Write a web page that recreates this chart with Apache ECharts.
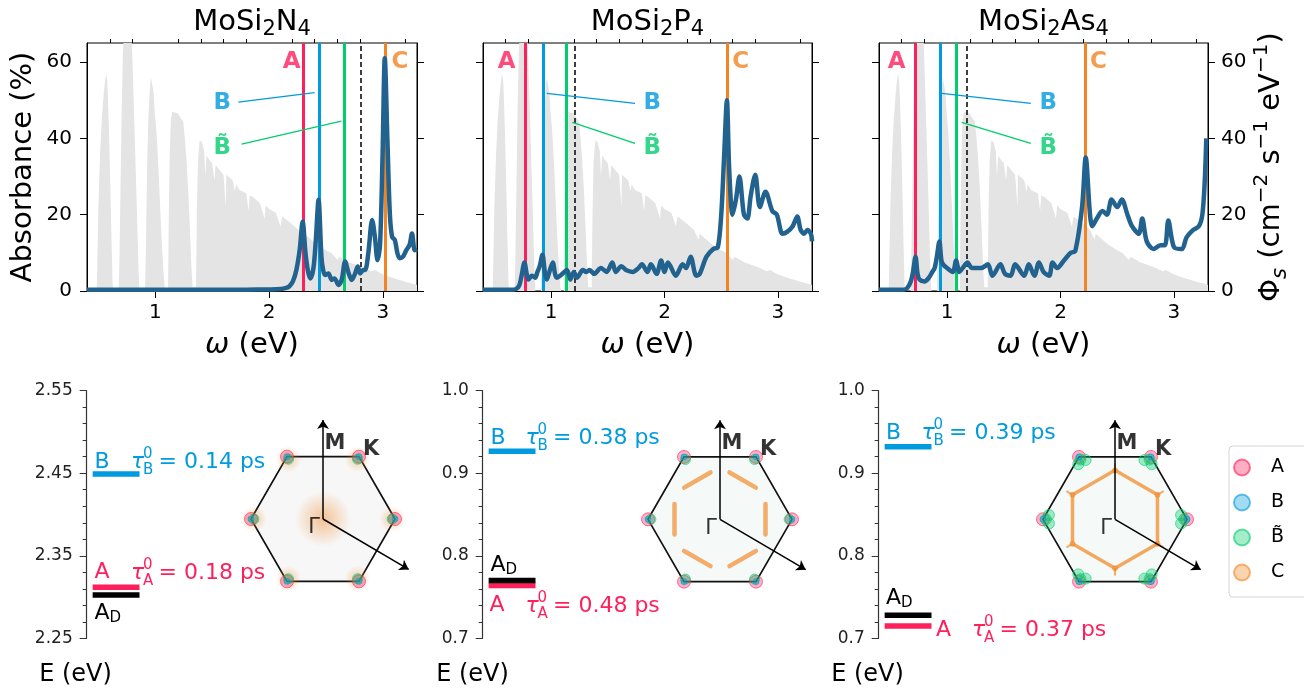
<!DOCTYPE html>
<html>
<head>
<meta charset="utf-8">
<script src="https://cdn.jsdelivr.net/npm/echarts@6/dist/echarts.min.js"></script>
<style>
  html, body { margin: 0; padding: 0; background: #fff; }
  #chart { width: 1304px; height: 690px; }
</style>
</head>
<body>
<div id="chart"></div>
<script>
// ---- data ----
const materials = ['MoSi{s|2}N{s|4}', 'MoSi{s|2}P{s|4}', 'MoSi{s|2}As{s|4}'];

const omegaMajor = [1, 2, 3];
const omegaMinor = [0.6, 0.8, 1.2, 1.4, 1.6, 1.8, 2.2, 2.4, 2.6, 2.8, 3.2];
const absTicks = [0, 20, 40, 60];

// solar photon flux (grey area, right axis)
const solarFlux = [
  [0.40, 0], [0.485, 0], [0.49, 6], [0.50, 22], [0.515, 36], [0.53, 45], [0.545, 51], [0.558, 55], [0.569, 57],
  [0.578, 55], [0.585, 50], [0.595, 40], [0.605, 28], [0.615, 14], [0.625, 2], [0.63, 0],
  [0.678, 0], [0.685, 8], [0.695, 28], [0.705, 48], [0.715, 62], [0.725, 68], [0.79, 68], [0.80, 60], [0.81, 50],
  [0.82, 40], [0.832, 28], [0.845, 14], [0.855, 4], [0.862, 0],
  [0.91, 0], [0.918, 12], [0.928, 32], [0.94, 46], [0.952, 53], [0.962, 56], [0.975, 55.5], [0.985, 52], [0.995, 47],
  [1.01, 42], [1.025, 34], [1.04, 24], [1.055, 14], [1.07, 6], [1.082, 1], [1.09, 0],
  [1.112, 0], [1.118, 18], [1.127, 36], [1.137, 45], [1.15, 47], [1.2, 46.5], [1.22, 45.5], [1.245, 44.5], [1.26, 40],
  [1.275, 34], [1.29, 26], [1.305, 16], [1.318, 6], [1.328, 1],
  [1.358, 1], [1.365, 20], [1.375, 34], [1.39, 39.5], [1.41, 39], [1.43, 36.5], [1.44, 30], [1.45, 35.5], [1.477, 34.3],
  [1.5, 33.5], [1.52, 29], [1.53, 33], [1.565, 31.7], [1.6, 30.5], [1.62, 22], [1.625, 30.5], [1.68, 29], [1.7, 26],
  [1.71, 28], [1.74, 26.5], [1.8, 25.6], [1.82, 21], [1.83, 25], [1.855, 24.7], [1.92, 23], [1.96, 19], [1.97, 22.5],
  [2.0, 21.5], [2.06, 20.5], [2.1, 17], [2.115, 19.5], [2.19, 17.8], [2.26, 16], [2.3, 13.5], [2.31, 15], [2.406, 12.5],
  [2.48, 11], [2.55, 9.9], [2.6, 8.2], [2.62, 9], [2.697, 7.6], [2.77, 6.8], [2.842, 6], [2.9, 5.2], [2.93, 5.5],
  [2.988, 4.5], [3.05, 3.8], [3.133, 3], [3.2, 2.4], [3.28, 1.8], [3.3, 1.6]
];

// absorbance (%) curves
const absN4 = [
  [0.40, 0.3], [1.0, 0.3], [1.8, 0.35], [2.0, 0.4], [2.1, 0.5], [2.15, 0.8], [2.18, 1.3], [2.21, 2.6], [2.24, 5.5],
  [2.27, 11], [2.295, 18.2], [2.32, 10], [2.34, 5.5], [2.362, 3.3], [2.39, 6], [2.41, 13], [2.435, 23.9], [2.46, 9],
  [2.475, 5.5], [2.493, 4.2], [2.522, 4.6], [2.55, 2.9], [2.575, 3.3], [2.61, 1.6], [2.64, 3.2], [2.668, 7.7],
  [2.70, 4.6], [2.726, 2.9], [2.755, 4.5], [2.78, 6.4], [2.80, 4.6], [2.828, 5.5], [2.845, 5.5], [2.872, 9.9],
  [2.906, 18.6], [2.93, 14.2], [2.953, 8.1], [2.975, 12], [2.997, 35], [3.017, 61], [3.04, 39.6], [3.061, 20.4],
  [3.081, 14.2], [3.105, 13.4], [3.128, 9.9], [3.148, 8.6], [3.177, 9], [3.206, 10.7], [3.235, 12.1], [3.256, 15.1],
  [3.28, 10.7], [3.3, 11]
];
const absP4 = [
  [0.4, 0.3], [0.65, 0.3], [0.69, 0.5], [0.72, 1.5], [0.74, 4], [0.765, 7.5], [0.785, 4.5], [0.80, 3], [0.83, 4],
  [0.86, 3.5], [0.88, 5], [0.9, 6.5], [0.924, 9.5], [0.945, 5], [0.962, 3], [0.985, 5], [1.015, 7.5], [1.035, 4.5],
  [1.05, 3.5], [1.08, 4], [1.1, 4.5], [1.14, 5.5], [1.17, 3], [1.2, 5], [1.23, 3.5], [1.28, 5.5], [1.31, 5],
  [1.34, 5.5], [1.38, 4.5], [1.44, 6], [1.49, 5], [1.54, 7.5], [1.57, 5], [1.62, 6.5], [1.66, 5.5], [1.72, 5],
  [1.77, 6], [1.80, 7], [1.85, 5], [1.88, 7], [1.93, 4.5], [1.97, 8], [2.0, 5], [2.03, 7.5], [2.1, 4], [2.16, 7],
  [2.19, 6], [2.23, 9], [2.28, 4], [2.31, 4.5], [2.37, 9], [2.43, 11], [2.47, 11.5], [2.50, 20], [2.525, 35],
  [2.55, 50], [2.57, 32], [2.60, 20], [2.63, 24], [2.66, 30], [2.70, 20], [2.73, 19], [2.76, 25], [2.80, 30.5],
  [2.84, 22], [2.89, 26], [2.95, 21], [2.99, 20], [3.04, 15], [3.08, 15.5], [3.13, 17], [3.17, 19.5], [3.2, 16],
  [3.23, 15], [3.26, 16], [3.29, 15], [3.3, 13]
];
const absAs4 = [
  [0.4, 0.3], [0.62, 0.3], [0.65, 0.8], [0.68, 2.5], [0.70, 5], [0.722, 9], [0.74, 4.5], [0.757, 3], [0.80, 2.5],
  [0.84, 3.5], [0.87, 5], [0.89, 6], [0.91, 9], [0.932, 13], [0.95, 8], [0.965, 7], [1.0, 6], [1.05, 5], [1.08, 8],
  [1.108, 5], [1.137, 6], [1.18, 7.5], [1.22, 6], [1.3, 6], [1.36, 7], [1.4, 4], [1.47, 7], [1.51, 4.5], [1.56, 4],
  [1.6, 7], [1.68, 4], [1.72, 7], [1.77, 4], [1.81, 7.5], [1.85, 5], [1.9, 4], [1.93, 7.5], [1.97, 6], [2.03, 8],
  [2.09, 10], [2.13, 10.5], [2.19, 22], [2.222, 35], [2.26, 20], [2.28, 17], [2.32, 19], [2.37, 21], [2.41, 20],
  [2.45, 24], [2.5, 22], [2.54, 24], [2.59, 20], [2.63, 17], [2.69, 15], [2.72, 19], [2.76, 13], [2.82, 11],
  [2.88, 12], [2.92, 12], [2.95, 18.5], [3.0, 11.5], [3.07, 11], [3.11, 14], [3.17, 16], [3.22, 17], [3.25, 20],
  [3.27, 28], [3.285, 40]
];
const absData = [absN4, absP4, absAs4];

// exciton energies marked in the spectra (eV)
const peakA = [2.30, 0.765, 0.72];
const peakB = [2.435, 0.927, 0.94];
const peakBt = [2.66, 1.13, 1.08];
const gapLine = [2.805, 1.21, 1.167];
const peakC = [3.025, 2.55, 2.22];

// annotation anchors in (eV, %)
const tagA = [[2.199, 59.9], [0.609, 59.9], [0.556, 59.9]];
const tagC = [[3.15, 59.9], [2.672, 59.9], [2.334, 59.9]];
const tagB = [[1.589, 49.2], [1.893, 49.2], [1.893, 49.2]];
const tagBt = [[1.589, 37.4], [1.893, 37.4], [1.893, 37.4]];
const linkB = [[[1.73, 49.5], [2.40, 52]], [[0.962, 51.8], [1.74, 49.2]], [[0.953, 51.8], [1.738, 49.2]]];
const linkBt = [[[1.759, 38.5], [2.635, 44.5]], [[1.187, 44.2], [1.74, 38.7]], [[1.129, 44.2], [1.738, 38.7]]];

// exciton levels (eV) and lifetimes
const levelB = [2.449, 0.9265, 0.932];
const levelA = [2.312, 0.764, 0.715];
const levelAD = [2.3025, 0.770, 0.728];
const tauB = ['0.14', '0.38', '0.39'];
const tauA = ['0.18', '0.48', '0.37'];
const energyRange = [[2.25, 2.55], [0.7, 1.0], [0.7, 1.0]];
const energyTicks = [[2.25, 2.35, 2.45, 2.55], [0.7, 0.8, 0.9, 1.0], [0.7, 0.8, 0.9, 1.0]];
const energyMinor = [
  [2.27, 2.29, 2.31, 2.33, 2.37, 2.39, 2.41, 2.43, 2.47, 2.49, 2.51, 2.53],
  [0.72, 0.74, 0.76, 0.78, 0.82, 0.84, 0.86, 0.88, 0.92, 0.94, 0.96, 0.98],
  [0.72, 0.74, 0.76, 0.78, 0.82, 0.84, 0.86, 0.88, 0.92, 0.94, 0.96, 0.98]
];
const energyDigits = [2, 1, 1];

// Brillouin zone (units of the zone corner distance)
const hexVerts = [[1, 0], [0.5, 0.866], [-0.5, 0.866], [-1, 0], [-0.5, -0.866], [0.5, -0.866], [1, 0]];
const kPoints = [[1, 0], [0.5, 0.866], [-0.5, 0.866], [-1, 0], [-0.5, -0.866], [0.5, -0.866]];
const greenInner = [[0.96, 0], [0.48, 0.83], [-0.48, 0.83], [-0.96, 0], [-0.48, -0.83], [0.48, -0.83]];
const greenAs4 = [
  [0.918, 0.059], [0.918, -0.059], [0.408, 0.824], [0.510, 0.765], [-0.408, 0.824], [-0.510, 0.765],
  [-0.918, 0.059], [-0.918, -0.059], [-0.408, -0.824], [-0.510, -0.765], [0.408, -0.824], [0.510, -0.765]
];
const orangeP4 = [
  [[0.132, 0.651], [0.498, 0.440]], [[0.63, 0.211], [0.63, -0.211]], [[0.498, -0.440], [0.132, -0.651]],
  [[-0.132, -0.651], [-0.498, -0.440]], [[-0.63, -0.211], [-0.63, 0.211]], [[-0.498, 0.440], [-0.132, 0.651]]
];
const orangeAs4 = [[0, 0.68], [0.59, 0.34], [0.59, -0.34], [0, -0.68], [-0.59, -0.34], [-0.59, 0.34], [0, 0.68]];
const orangeAs4Spurs = [
  [[0, 0.68], [0, 0.78]], [[0.59, 0.34], [0.675, 0.39]], [[0.59, -0.34], [0.675, -0.39]],
  [[0, -0.68], [0, -0.78]], [[-0.59, -0.34], [-0.675, -0.39]], [[-0.59, 0.34], [-0.675, 0.39]]
];
const arrowM = [[0, 0], [0, 1.375]];
const arrowK = [[0, 0], [1.19, -0.70]];
const bzTags = [['M', 0.167, 1.05, 'bold'], ['K', 0.67, 0.97, 'bold'], ['\u0393', -0.125, -0.125, 'normal']];

// ---- layout / style ----
const FONT = 'DejaVu Sans';
const cA = '#ff1f5b', cB = '#009ade', cBt = '#00cd6c', cC = '#f28522';
const curveColor = '#22628f';
const topLeft = [87, 483, 879], topWidth = [330, 329, 329];
const botLeft = [86.7, 482.7, 878.7];
const bzCenter = [[323, 519], [720, 519.3], [1115, 519.3]];
const BZS = 72;

const grid = [], xAxis = [], yAxis = [], series = [], G = [];

for (let p = 0; p < 3; p++) {
  grid.push({ left: topLeft[p], top: 43, width: topWidth[p], height: 248, show: true, borderColor: '#000', borderWidth: 1 });
}
for (let p = 0; p < 3; p++) grid.push({ left: botLeft[p], top: 390.7, width: 330, height: 247.6 });
for (let p = 0; p < 3; p++) {
  const [cx, cy] = bzCenter[p];
  grid.push({ left: cx - 1.5 * BZS, top: cy - 1.5 * BZS, width: 3 * BZS, height: 3 * BZS });
}

const blk = { color: '#000', width: 1 };
// x axes: 0-2 major, 3-5 minor, 6-8 level panels, 9-11 zones
for (let p = 0; p < 3; p++) xAxis.push({
  type: 'value', gridIndex: p, min: 0.4, max: 3.3, splitLine: { show: false },
  axisLine: { onZero: false, lineStyle: blk },
  axisTick: { customValues: omegaMajor, length: 7, lineStyle: blk },
  axisLabel: { customValues: omegaMajor, fontSize: 20, color: '#000', fontFamily: FONT, margin: 12 }
});
for (let p = 0; p < 3; p++) xAxis.push({
  type: 'value', gridIndex: p, min: 0.4, max: 3.3, splitLine: { show: false },
  axisLine: { show: false, onZero: false }, axisLabel: { show: false },
  axisTick: { customValues: omegaMinor, length: 4, lineStyle: blk }
});
for (let p = 0; p < 3; p++) xAxis.push({ type: 'value', gridIndex: 3 + p, min: 0, max: 1, show: false });
for (let p = 0; p < 3; p++) xAxis.push({ type: 'value', gridIndex: 6 + p, min: -1.5, max: 1.5, show: false });

// y axes: 0-2 absorbance, 3-5 flux, 6-8 energy, 9-11 energy minor, 12-14 zones
for (let p = 0; p < 3; p++) yAxis.push({
  type: 'value', gridIndex: p, position: 'left', min: 0, max: 65, splitLine: { show: false },
  axisLine: { onZero: false, lineStyle: blk },
  axisTick: { customValues: absTicks, length: 7, lineStyle: blk },
  axisLabel: { show: p === 0, customValues: absTicks, fontSize: 20, color: '#000', fontFamily: FONT, margin: 15 }
});
for (let p = 0; p < 3; p++) yAxis.push({
  type: 'value', gridIndex: p, position: 'right', min: 0, max: 65, splitLine: { show: false },
  axisLine: { onZero: false, lineStyle: blk },
  axisTick: { customValues: absTicks, length: 7, lineStyle: blk },
  axisLabel: { show: p === 2, customValues: absTicks, fontSize: 20, color: '#000', fontFamily: FONT, margin: 13 }
});
for (let p = 0; p < 3; p++) yAxis.push({
  type: 'value', gridIndex: 3 + p, position: 'left', min: energyRange[p][0], max: energyRange[p][1],
  splitLine: { show: false }, axisLine: { onZero: false, lineStyle: { color: '#333', width: 1.2 } },
  axisTick: { customValues: energyTicks[p], length: 7, lineStyle: { color: '#333' } },
  axisLabel: { customValues: energyTicks[p], fontSize: 17, color: '#222', fontFamily: FONT, margin: 14,
    formatter: v => v.toFixed(energyDigits[p]) }
});
for (let p = 0; p < 3; p++) yAxis.push({
  type: 'value', gridIndex: 3 + p, position: 'left', min: energyRange[p][0], max: energyRange[p][1],
  splitLine: { show: false }, axisLine: { show: false, onZero: false }, axisLabel: { show: false },
  axisTick: { customValues: energyMinor[p], length: 4, lineStyle: { color: '#333' } }
});
for (let p = 0; p < 3; p++) yAxis.push({ type: 'value', gridIndex: 6 + p, min: -1.5, max: 1.5, show: false });

// ---- top panels ----
for (let p = 0; p < 3; p++) {
  series.push({
    type: 'line', xAxisIndex: p, yAxisIndex: 3 + p, data: solarFlux, symbol: 'none', silent: true, z: 1,
    lineStyle: { width: 0 }, areaStyle: { color: '#e4e4e4', opacity: 1 },
    markLine: {
      silent: true, symbol: 'none', label: { show: false }, animation: false,
      data: [
        { xAxis: peakA[p], lineStyle: { color: cA, width: 3, type: 'solid' } },
        { xAxis: peakB[p], lineStyle: { color: cB, width: 3, type: 'solid' } },
        { xAxis: peakBt[p], lineStyle: { color: cBt, width: 3, type: 'solid' } },
        { xAxis: gapLine[p], lineStyle: { color: '#000', width: 1.5, type: [5, 3] } },
        { xAxis: peakC[p], lineStyle: { color: cC, width: 3, type: 'solid' } }
      ]
    }
  });
  series.push({
    type: 'line', xAxisIndex: p, yAxisIndex: p, data: absData[p], symbol: 'none', z: 10, smooth: 0.3,
    lineStyle: { color: curveColor, width: 4.5, join: 'round' }
  });
  series.push({
    type: 'scatter', xAxisIndex: p, yAxisIndex: p, symbolSize: 1, z: 12, silent: true,
    itemStyle: { color: 'rgba(0,0,0,0)' },
    label: { show: true, position: 'inside', formatter: '{b}', fontSize: 23, fontWeight: 'bold', fontFamily: FONT },
    data: [
      { value: tagA[p], name: 'A', label: { color: cA } },
      { value: tagC[p], name: 'C', label: { color: cC } },
      { value: tagB[p], name: 'B', label: { color: cB } },
      { value: tagBt[p], name: 'B\u0303', label: { color: cBt } }
    ],
    markLine: {
      silent: true, symbol: 'none', label: { show: false },
      data: [
        [{ coord: linkB[p][0], lineStyle: { color: cB, width: 1.3, type: 'solid' } }, { coord: linkB[p][1] }],
        [{ coord: linkBt[p][0], lineStyle: { color: cBt, width: 1.3, type: 'solid' } }, { coord: linkBt[p][1] }]
      ]
    }
  });
}

// ---- level diagrams ----
for (let p = 0; p < 3; p++) {
  [[levelB[p], cB], [levelA[p], cA], [levelAD[p], '#000']].forEach(([e, c]) => {
    series.push({
      type: 'line', xAxisIndex: 6 + p, yAxisIndex: 6 + p, data: [[0.018, e], [0.16, e]], symbol: 'none', silent: true,
      lineStyle: { color: c, width: 5.5, cap: 'butt' }
    });
  });
}

// ---- Brillouin zones ----
const ptStyle = (c, a) => ({ color: c.replace('1)', a + ')'), borderColor: c.replace('1)', '0.75)'), borderWidth: 1 });
const rgbA = 'rgba(255,31,91,1)', rgbB = 'rgba(0,154,222,1)', rgbBt = 'rgba(0,205,108,1)', rgbC = 'rgba(242,133,34,1)';
const glow = (a) => ({ type: 'radial', x: 0.5, y: 0.5, r: 0.5,
  colorStops: [{ offset: 0, color: 'rgba(240,135,40,' + a + ')' }, { offset: 1, color: 'rgba(240,135,40,0)' }] });

for (let p = 0; p < 3; p++) {
  const xi = 9 + p, yi = 12 + p;
  const fill = p === 0 ? 'rgba(120,120,120,0.06)' : 'rgba(110,170,140,0.07)';
  series.push({
    type: 'custom', xAxisIndex: xi, yAxisIndex: yi, data: [[0, 0]], silent: true, z: 2,
    renderItem: (params, api) => ({
      type: 'polygon', shape: { points: hexVerts.map(v => api.coord(v)) },
      style: { fill: fill, stroke: '#111', lineWidth: 1.7 }
    })
  });
  if (p === 0) {
    series.push({ type: 'scatter', name: 'C-glow', xAxisIndex: xi, yAxisIndex: yi, silent: true, z: 3,
      data: [[0, 0]], symbolSize: 56, itemStyle: { color: glow(0.6) } });
    series.push({ type: 'scatter', name: 'C-glow', xAxisIndex: xi, yAxisIndex: yi, silent: true, z: 3,
      data: greenInner, symbolSize: 26, itemStyle: { color: glow(0.5) } });
  } else if (p === 1) {
    series.push({ type: 'lines', coordinateSystem: 'cartesian2d', xAxisIndex: xi, yAxisIndex: yi, silent: true, z: 3,
      data: orangeP4.map(c => ({ coords: c })),
      lineStyle: { color: 'rgba(242,140,45,0.7)', width: 4.5, cap: 'round', opacity: 1 } });
  } else {
    series.push({ type: 'lines', coordinateSystem: 'cartesian2d', xAxisIndex: xi, yAxisIndex: yi, silent: true, z: 3,
      polyline: true, data: [{ coords: orangeAs4 }],
      lineStyle: { color: 'rgba(242,140,45,0.75)', width: 3.5, opacity: 1 } });
    series.push({ type: 'lines', coordinateSystem: 'cartesian2d', xAxisIndex: xi, yAxisIndex: yi, silent: true, z: 3,
      data: orangeAs4Spurs.map(c => ({ coords: c })),
      lineStyle: { color: 'rgba(242,140,45,0.7)', width: 2, opacity: 1 } });
    series.push({ type: 'scatter', name: 'C', xAxisIndex: xi, yAxisIndex: yi, silent: true, z: 4,
      data: orangeAs4.slice(0, 6), symbolSize: 5, itemStyle: ptStyle(rgbC, 0.45) });
  }
  series.push({ type: 'scatter', name: 'A', xAxisIndex: xi, yAxisIndex: yi, silent: true, z: 5,
    data: kPoints, symbolSize: 13, itemStyle: ptStyle(rgbA, 0.45) });
  series.push({ type: 'scatter', name: 'B\u0303', xAxisIndex: xi, yAxisIndex: yi, silent: true, z: 6,
    data: p === 2 ? greenInner.concat(greenAs4) : greenInner, symbolSize: p === 2 ? 11 : 10,
    itemStyle: ptStyle(rgbBt, 0.45) });
  series.push({ type: 'scatter', name: 'B', xAxisIndex: xi, yAxisIndex: yi, silent: true, z: 7,
    data: kPoints, symbolSize: 6, itemStyle: ptStyle(rgbB, 0.45) });
  series.push({ type: 'lines', coordinateSystem: 'cartesian2d', xAxisIndex: xi, yAxisIndex: yi, silent: true, z: 20,
    data: [{ coords: arrowM }, { coords: arrowK }], symbol: ['none', 'arrow'], symbolSize: [0, 9],
    lineStyle: { color: '#000', width: 1.5, opacity: 1 } });
  series.push({ type: 'scatter', xAxisIndex: xi, yAxisIndex: yi, silent: true, z: 21, symbolSize: 1,
    itemStyle: { color: 'rgba(0,0,0,0)' },
    data: bzTags.map(t => ({ value: [t[1], t[2]], name: t[0], label: { fontWeight: t[3] } })),
    label: { show: true, position: 'inside', formatter: '{b}', fontSize: 21, color: '#000', fontFamily: FONT } });
}

// ---- texts ----
const txt = (x, y, text, size, color, extra) => ({
  type: 'text', x: x, y: y, silent: true,
  style: Object.assign({ text: text, fontSize: size, fontFamily: FONT, fill: color || '#000',
    align: 'left', verticalAlign: 'middle' }, extra || {})
});
const centers = [252, 647.5, 1043.5];
for (let p = 0; p < 3; p++) {
  G.push(txt(centers[p], 22.5, materials[p], 29, '#000', { align: 'center', lineHeight: 36,
    rich: { s: { fontSize: 21, lineHeight: 25, verticalAlign: 'bottom', fontFamily: FONT, fill: '#000' } } }));
  G.push(txt(centers[p], 345.5, '{i|\u03c9} (eV)', 29, '#000', { align: 'center', lineHeight: 36,
    rich: { i: { fontSize: 29, fontStyle: 'italic', fontFamily: FONT, fill: '#000', lineHeight: 36 } } }));
}
G.push(Object.assign(txt(23, 167, 'Absorbance (%)', 29, '#000', { align: 'center' }), { rotation: Math.PI / 2 }));
G.push(Object.assign(txt(1271.5, 167, '\u03a6{i|s} (cm{p|\u22122} s{p|\u22121} eV{p|\u22121})', 29, '#000', {
  align: 'center', lineHeight: 40,
  rich: {
    i: { fontSize: 21, fontStyle: 'italic', lineHeight: 25, verticalAlign: 'bottom', fontFamily: FONT, fill: '#000' },
    p: { fontSize: 20, lineHeight: 20, verticalAlign: 'top', fontFamily: FONT, fill: '#000' }
  }
}), { rotation: Math.PI / 2 }));

const eLabelX = [75.5, 472.5, 867.5];
for (let p = 0; p < 3; p++) G.push(txt(eLabelX[p], 675, 'E (eV)', 24, '#000', { align: 'center' }));

const tau = (x, y, sub, val, color) => {
  G.push(txt(x, y, '\u03c4', 22, color, { fontStyle: 'italic' }));
  G.push(txt(x + 12, y - 7.5, '0', 15, color));
  G.push(txt(x + 12, y + 8.5, sub, 15, color));
  G.push(txt(x + 27.5, y, '= ' + val + ' ps', 22, color));
};
const levelText = [
  { B: [94.5, 462], tB: [131, 462], A: [94.5, 572], tA: [131, 573], AD: [94.5, 613] },
  { B: [490.5, 438.5], tB: [525.5, 438], A: [489.5, 605], tA: [525.5, 606], AD: [490.5, 565.5] },
  { B: [886, 433], tB: [921.5, 433], A: [936, 630], tA: [972, 630], AD: [886, 598] }
];
for (let p = 0; p < 3; p++) {
  const L = levelText[p];
  G.push(txt(L.B[0], L.B[1], 'B', 22, cB));
  tau(L.tB[0], L.tB[1], 'B', tauB[p], cB);
  G.push(txt(L.A[0], L.A[1], 'A', 22, cA));
  tau(L.tA[0], L.tA[1], 'A', tauA[p], cA);
  G.push(txt(L.AD[0], L.AD[1], 'A', 22, '#000'));
  G.push(txt(L.AD[0] + 15, L.AD[1] + 5, 'D', 15, '#000'));
}

const chart = echarts.init(document.getElementById('chart'));
chart.setOption({
  animation: false,
  backgroundColor: '#fff',
  textStyle: { fontFamily: FONT },
  grid: grid, xAxis: xAxis, yAxis: yAxis, series: series, graphic: G,
  legend: {
    data: ['A', 'B', 'B\u0303', 'C'], orient: 'vertical', left: 1229, top: 446,
    itemWidth: 32, itemHeight: 16, itemGap: 16, padding: [12, 40, 15, 4], icon: 'circle',
    borderColor: '#d4d4d4', borderWidth: 1, borderRadius: 4, backgroundColor: '#fff', selectedMode: false,
    textStyle: { fontSize: 19, color: '#000', fontFamily: FONT, padding: [0, 0, 0, 8] }
  }
});
</script>
</body>
</html>
